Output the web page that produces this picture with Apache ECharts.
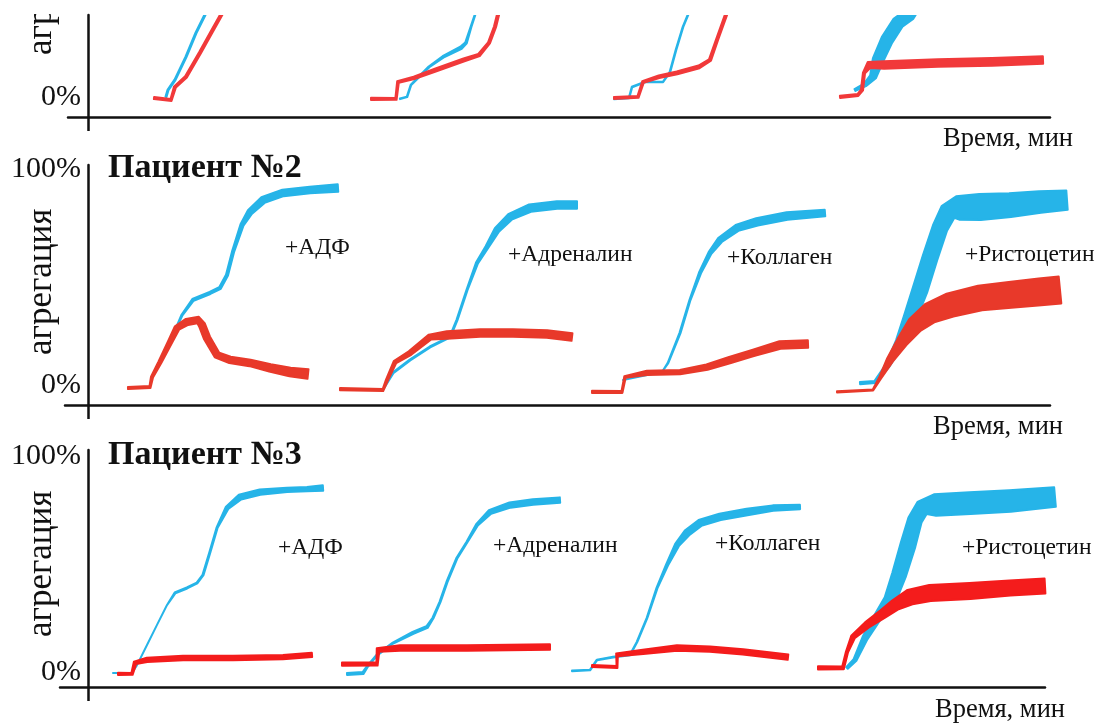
<!DOCTYPE html>
<html>
<head>
<meta charset="utf-8">
<script src="https://cdn.jsdelivr.net/npm/echarts@6/dist/echarts.min.js"></script>
<style>
  html, body { margin: 0; padding: 0; background: #fff; }
  #chart { width: 1107px; height: 725px; }
</style>
</head>
<body>
<div id="chart"></div>
<script>
// each point: [time, aggregation %, band thickness %]
// patient 1 (upper part of the figure is cut off)
const p1AdpBlue = [[7.8, 0, 0.5], [8.0, 3.2, 0.5], [8.7, 7.9, 0.5], [9.8, 18.5, 0.5], [10.8, 29.6, 0.5], [11.7, 38.0, 0.5], [12.0, 41.2, 0.5]];
const p1AdpRed = [[6.6, -0.5, 1], [8.3, -1.4, 1], [8.7, 4.6, 1], [9.8, 9.3, 1], [11.2, 20.4, 1], [12.3, 29.6, 1], [13.2, 37.0, 1], [13.7, 41.2, 1]];
const p1AdrBlue = [[31.2, -0.9, 0.3], [31.9, 0, 0.3], [32.3, 5.6, 0.3], [34.1, 13.9, 0.5], [35.5, 18.5, 0.8], [37.3, 22.7, 1.2], [37.8, 25.0, 0.8], [38.3, 32.4, 0.4], [38.7, 38.0, 0.3], [38.9, 41.2, 0.3]];
const p1AdrRed = [[28.3, -0.9, 1], [30.8, -0.9, 1], [31.0, 6.9, 1], [32.6, 8.8, 1.2], [34.8, 12.5, 1.4], [37.6, 17.1, 1.4], [39.1, 19.4, 1.2], [40.1, 25.0, 1], [40.7, 32.4, 1], [41.0, 38.0, 1], [41.2, 41.2, 1]];
const p1ColBlue = [[52.6, -0.9, 0.3], [54.1, -0.5, 0.3], [54.4, 4.6, 0.3], [55.7, 6.9, 0.3], [57.5, 6.9, 0.3], [58.2, 11.6, 0.3], [58.8, 21.8, 0.3], [59.5, 32.4, 0.3], [60.0, 38.0, 0.3], [60.2, 41.2, 0.3]];
const p1ColRed = [[52.6, -0.5, 1], [55.0, 0, 1], [55.5, 6.9, 1], [57.1, 9.3, 1.2], [58.9, 11.1, 1.3], [61.1, 13.9, 1.3], [62.2, 17.1, 1.1], [62.9, 26.4, 1], [63.8, 38.0, 1], [64.1, 41.2, 1]];
const p1RisBlue = [[76.7, 3.2, 1], [77.7, 5.6, 1.5], [78.5, 9.3, 3], [79.0, 17.1, 5], [79.9, 26.4, 5.5], [81.0, 34.3, 5.5], [82.1, 38.0, 5.5], [82.5, 41.2, 5.5]];
const p1RisRed = [[75.2, 0, 1], [77.0, 0.9, 1], [77.4, 3.2, 1], [77.6, 11.1, 1], [78.1, 14.8, 3], [79.6, 14.8, 3.5], [85.0, 15.7, 3.5], [90.4, 16.2, 3.5], [95.5, 17.1, 3.5]];

// patient 2
const p2AdpBlue = [[7.2, 10.6, 0], [8.2, 19.9, 0], [9.4, 32.4, 0.5], [10.5, 39.4, 1], [12.2, 42.6, 1], [13.2, 44.9, 1], [13.9, 50.9, 1], [14.5, 61.6, 1], [15.4, 74.1, 1.5], [16.2, 80.1, 2.5], [17.5, 85.6, 3], [19.5, 88.9, 3], [22.2, 90.3, 3], [25.0, 91.2, 3.5]];
const p2AdpRed = [[4.0, -1.4, 1], [6.2, -0.9, 1], [6.4, 3.7, 1], [7.2, 10.6, 1.5], [8.2, 19.9, 2], [8.9, 26.4, 2.5], [9.9, 29.2, 3], [11.0, 30.1, 3], [11.4, 27.8, 3], [11.9, 21.8, 3], [12.9, 13.9, 3], [14.2, 11.6, 3], [16.2, 10.2, 3], [18.2, 7.9, 3.5], [20.2, 6.0, 4], [22.0, 5.1, 4.5]];
const p2AdrBlue = [[29.5, -2.3, 0], [30.5, 5.6, 0.5], [32.2, 11.6, 0.5], [34.2, 17.6, 0.5], [36.2, 22.2, 0.5], [36.9, 30.1, 0.5], [37.9, 44.0, 0.5], [38.9, 56.5, 1], [39.9, 63.9, 1.5], [40.9, 71.8, 2.5], [42.2, 77.8, 3], [44.2, 81.9, 3.5], [46.9, 83.3, 3.5], [48.9, 83.3, 3.5]];
const p2AdrRed = [[25.2, -1.9, 1], [29.5, -2.3, 1], [29.9, 2.3, 1], [30.7, 10.6, 1.5], [32.2, 14.8, 2], [34.2, 22.2, 2.5], [35.9, 23.1, 3.5], [39.2, 24.1, 3.5], [42.5, 24.1, 3.5], [45.9, 23.6, 3.5], [48.4, 22.2, 3.5]];
const p2ColBlue = [[53.5, 2.3, 0], [57.4, 6.0, 0], [58.0, 10.2, 0.3], [59.2, 24.1, 0.5], [60.2, 39.4, 0.5], [61.2, 51.9, 1], [62.2, 61.1, 1.5], [63.2, 67.1, 2.5], [64.9, 72.7, 3], [66.9, 75.5, 3.5], [69.9, 78.2, 3.5], [73.7, 79.6, 3]];
const p2ColRed = [[50.4, -3.2, 1], [53.4, -3.2, 1], [53.7, 3.7, 1], [55.9, 5.6, 2], [59.2, 6.0, 2], [61.9, 8.3, 2.5], [64.2, 11.6, 3], [66.5, 14.8, 3], [69.2, 18.5, 3.5], [72.0, 19.0, 3.5]];
const p2RisBlue = [[77.2, 0.9, 1], [78.7, 1.4, 1], [80.0, 9.3, 2], [81.2, 19.9, 4], [82.2, 31.0, 6], [83.2, 44.0, 7], [84.2, 58.8, 7], [85.2, 72.7, 7], [86.0, 80.1, 8], [87.0, 81.9, 11], [89.2, 82.4, 12], [92.2, 83.3, 11], [95.2, 84.7, 10], [97.9, 85.6, 9]];
const p2RisRed = [[74.9, -3.2, 0.5], [78.5, -2.3, 0.5], [79.2, 3.2, 1], [80.2, 11.6, 3], [81.4, 19.9, 5], [82.7, 27.8, 7.5], [84.2, 33.3, 9.5], [86.2, 37.0, 11], [89.2, 40.3, 11.5], [92.2, 41.7, 12], [95.2, 43.1, 12.5], [97.2, 44.0, 12.5]];

// patient 3
const p3AdpBlue = [[2.5, -0.5, 0], [4.4, -0.5, 0], [4.9, 3.2, 0], [5.9, 12.5, 0], [6.9, 21.8, 0], [7.9, 31.0, 0], [8.7, 36.6, 0.5], [9.9, 38.9, 0.5], [10.9, 41.2, 0.5], [11.5, 44.9, 0.5], [12.2, 55.6, 0.5], [12.9, 66.7, 0.5], [13.9, 75.9, 1.5], [15.2, 81.0, 2.5], [17.2, 83.3, 2.5], [19.9, 84.3, 2], [21.9, 84.7, 2], [23.5, 85.2, 2.5]];
const p3AdpRed = [[3.0, -0.9, 1], [4.4, -0.9, 1], [4.7, 4.2, 1.5], [5.9, 5.6, 2], [9.5, 6.5, 2], [14.5, 6.5, 2], [19.5, 6.9, 2], [22.4, 7.9, 2]];
const p3AdrBlue = [[25.9, -0.9, 1], [27.5, -0.5, 1], [27.9, 2.3, 0.5], [28.9, 7.9, 0.5], [30.5, 13.4, 0.5], [32.5, 18.1, 1], [33.9, 20.8, 1], [34.5, 25.0, 0.5], [35.2, 32.4, 0.5], [35.9, 41.7, 0.5], [36.9, 52.8, 0.5], [37.9, 60.2, 0.5], [38.9, 68.1, 1], [40.2, 74.1, 2], [42.2, 77.3, 2.5], [44.5, 78.7, 2.5], [47.2, 79.6, 2.5]];
const p3AdrRed = [[25.4, 3.7, 1.5], [28.9, 3.7, 1.5], [29.0, 10.2, 2], [31.2, 11.1, 2.5], [37.9, 11.1, 2.5], [46.2, 11.6, 2.5]];
const p3ColBlue = [[48.4, 0.5, 0.3], [50.2, 0.9, 0.3], [50.9, 5.6, 0.3], [52.5, 6.9, 0.3], [54.2, 7.9, 0.3], [54.9, 13.9, 0.3], [55.9, 25.0, 0.3], [56.9, 38.9, 0.5], [57.9, 49.5, 1], [58.9, 58.8, 2], [59.9, 64.4, 3], [61.2, 69.0, 3], [63.2, 71.8, 3], [65.9, 74.1, 3], [68.5, 75.9, 2.5], [71.2, 76.4, 2]];
const p3ColRed = [[50.4, 2.8, 1], [52.9, 2.3, 1], [52.9, 7.9, 1.5], [55.5, 9.3, 2], [58.9, 11.1, 2.5], [62.2, 10.6, 2.5], [65.5, 9.3, 2.5], [70.0, 6.9, 2.5]];
const p3RisBlue = [[75.9, 1.9, 1], [76.7, 5.6, 1.5], [77.7, 15.7, 2.5], [78.9, 25.0, 3.5], [80.2, 33.3, 5.5], [81.1, 44.9, 6.5], [82.0, 58.8, 7], [82.7, 70.4, 6.5], [83.4, 75.9, 7], [84.7, 77.3, 10], [88.2, 78.2, 10], [92.2, 79.2, 10], [96.7, 81.0, 9]];
const p3RisRed = [[73.0, 1.9, 1.5], [75.5, 1.9, 1.5], [75.9, 9.3, 1], [76.5, 16.2, 2], [77.9, 21.8, 3], [79.5, 26.9, 4], [80.7, 31.0, 5], [82.2, 34.7, 7], [84.2, 36.6, 7.5], [88.2, 37.5, 7.5], [92.2, 38.9, 7], [95.7, 39.8, 7]];

const agonists = ['+АДФ', '+Адреналин', '+Коллаген', '+Ристоцетин'];
const patients = ['Пациент №2', 'Пациент №3'];
const yLabelValues = [0, 100];

const BLUE = '#26b4e8';
const INK = '#111';
const SERIF = 'Liberation Serif';

const chart = echarts.init(document.getElementById('chart'));

// one polygon per curve: the trace with its noise band, drawn from all points of the series
function band(color) {
  return function (params, api) {
    if (params.dataIndexInside !== 0) return null;
    const n = params.dataInsideLength;
    const pts = [], half = [];
    for (let i = 0; i < n; i++) {
      pts.push(api.coord([api.value(0, i), api.value(1, i)]));
      half.push(Math.abs(api.size([0, api.value(2, i)])[1]) / 2);
    }
    const left = [], right = [];
    for (let i = 0; i < n; i++) {
      const a = pts[Math.max(0, i - 1)], b = pts[Math.min(n - 1, i + 1)];
      const dx = b[0] - a[0], dy = b[1] - a[1];
      const len = Math.hypot(dx, dy) || 1;
      const nx = -dy / len, ny = dx / len;
      left.push([pts[i][0] + nx * half[i], pts[i][1] + ny * half[i]]);
      right.push([pts[i][0] - nx * half[i], pts[i][1] - ny * half[i]]);
    }
    return {
      type: 'polygon',
      shape: { points: left.concat(right.reverse()) },
      style: { fill: color, stroke: color, lineWidth: 2, lineJoin: 'round' }
    };
  };
}

function curve(data, color, grid, clip) {
  return {
    type: 'custom',
    xAxisIndex: grid,
    yAxisIndex: grid,
    clip: clip,
    silent: true,
    encode: { x: 0, y: 1 },
    dimensions: ['t', 'v', 'w'],
    renderItem: band(color),
    data: data
  };
}

const axisLineStyle = { color: INK, width: 2.5 };

const grids = [
  { left: 68, top: 15, width: 982, height: 102 },
  { left: 65, top: 165, width: 985, height: 240 },
  { left: 60, top: 450, width: 985, height: 237 }
];
const xRanges = [[-2, 96.2], [-2.3, 96.2], [-2.8, 95.7]];
const yRanges = [[-9.3, 37.9], [-9.26, 101.85], [-6.94, 102.78]];
// labels stay at the grid edge, so shift them to sit next to the y axis at x = 0
const labelMargins = [-13, -16, -21];

const titles = [];
const redColors = ['#f1393a', '#e8392a', '#f41c1c'];
const patientTops = [151, 438];
const agonistPos = [
  [[285, 236], [508, 243], [727, 246], [965, 243]],
  [[278, 536], [493, 534], [715, 532], [962, 536]]
];
patients.forEach((p, i) => {
  titles.push({ text: p, left: 108, top: patientTops[i], padding: 0,
    textStyle: { fontFamily: SERIF, fontSize: 34, fontWeight: 'bold', color: INK } });
  agonists.forEach((a, j) => {
    titles.push({ text: a, left: agonistPos[i][j][0], top: agonistPos[i][j][1], padding: 0,
      textStyle: { fontFamily: SERIF, fontSize: 23.5, fontWeight: 'normal', color: INK } });
  });
});
[[34, 126], [44, 414], [42, 697]].forEach(pos => {
  titles.push({ text: 'Время, мин', right: pos[0], top: pos[1], padding: 0,
    textStyle: { fontFamily: SERIF, fontSize: 26.5, fontWeight: 'normal', color: INK } });
});

const option = {
  animation: false,
  backgroundColor: '#fff',
  title: titles,
  grid: grids.map(g => Object.assign({ containLabel: false, outerBoundsMode: 'none' }, g)),
  xAxis: xRanges.map((r, i) => ({
    type: 'value', gridIndex: i, min: r[0], max: r[1],
    axisLine: { onZero: false, lineStyle: axisLineStyle },
    axisTick: { show: true, customValues: [0], length: 14, lineStyle: axisLineStyle },
    axisLabel: { show: false },
    splitLine: { show: false }
  })),
  yAxis: yRanges.map((r, i) => ({
    type: 'value', gridIndex: i, min: r[0], max: r[1],
    axisLine: { show: true, onZero: true, lineStyle: axisLineStyle },
    axisTick: { show: false },
    axisLabel: {
      customValues: i === 0 ? [0] : yLabelValues,
      formatter: '{value}%', margin: labelMargins[i],
      fontFamily: SERIF, fontSize: 30, color: INK
    },
    splitLine: { show: false }
  })),
  graphic: [55, 355, 637].map(y => ({
    type: 'text', x: 42, y: y, rotation: Math.PI / 2, silent: true, z: 10,
    style: { text: 'агрегация', fontSize: 35, fontFamily: SERIF, fill: INK,
      textAlign: 'left', textVerticalAlign: 'middle', align: 'left', verticalAlign: 'middle' }
  })).concat([{
    // the source figure is cropped just above the first panel
    type: 'rect', silent: true, z: 20,
    shape: { x: 0, y: 0, width: 86, height: 14 },
    style: { fill: '#fff' }
  }]),
  series: [
    curve(p1AdpBlue, BLUE, 0, true), curve(p1AdpRed, redColors[0], 0, true),
    curve(p1AdrBlue, BLUE, 0, true), curve(p1AdrRed, redColors[0], 0, true),
    curve(p1ColBlue, BLUE, 0, true), curve(p1ColRed, redColors[0], 0, true),
    curve(p1RisBlue, BLUE, 0, true), curve(p1RisRed, redColors[0], 0, true),
    curve(p2AdpBlue, BLUE, 1, false), curve(p2AdpRed, redColors[1], 1, false),
    curve(p2AdrBlue, BLUE, 1, false), curve(p2AdrRed, redColors[1], 1, false),
    curve(p2ColBlue, BLUE, 1, false), curve(p2ColRed, redColors[1], 1, false),
    curve(p2RisBlue, BLUE, 1, false), curve(p2RisRed, redColors[1], 1, false),
    curve(p3AdpBlue, BLUE, 2, false), curve(p3AdpRed, redColors[2], 2, false),
    curve(p3AdrBlue, BLUE, 2, false), curve(p3AdrRed, redColors[2], 2, false),
    curve(p3ColBlue, BLUE, 2, false), curve(p3ColRed, redColors[2], 2, false),
    curve(p3RisBlue, BLUE, 2, false), curve(p3RisRed, redColors[2], 2, false)
  ]
};

chart.setOption(option);
window.addEventListener('resize', () => chart.resize());
</script>
</body>
</html>
